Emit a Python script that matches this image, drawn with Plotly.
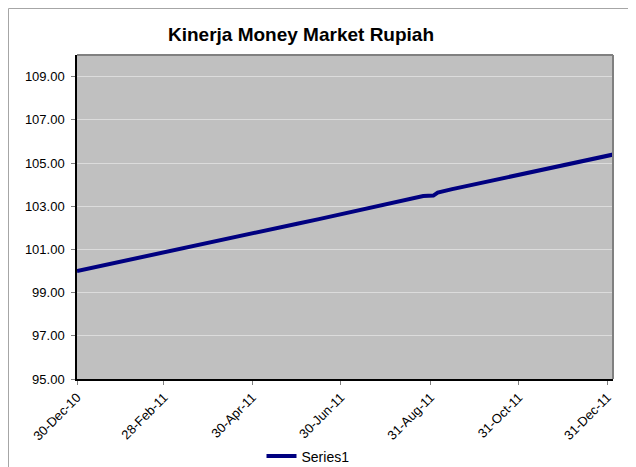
import plotly.graph_objects as go

dates = [
    "2010-12-30", "2011-01-14", "2011-01-31", "2011-02-15", "2011-02-28",
    "2011-03-15", "2011-03-31", "2011-04-15", "2011-04-29", "2011-05-16",
    "2011-05-31", "2011-06-15", "2011-06-30", "2011-07-15", "2011-07-29",
    "2011-08-15", "2011-08-26", "2011-09-02", "2011-09-05", "2011-09-15",
    "2011-09-30", "2011-10-14", "2011-10-31", "2011-11-15", "2011-11-30",
    "2011-12-15", "2011-12-30", "2012-01-04",
]
values = [
    100.00, 100.22, 100.46, 100.68, 100.87,
    101.08, 101.31, 101.53, 101.73, 101.97,
    102.19, 102.40, 102.62, 102.84, 103.04,
    103.29, 103.47, 103.49, 103.63, 103.79,
    104.01, 104.21, 104.45, 104.67, 104.88,
    105.10, 105.32, 105.39,
]
tick_dates = ["2010-12-30", "2011-02-28", "2011-04-30", "2011-06-30",
              "2011-08-31", "2011-10-31", "2011-12-31"]
tick_labels = ["30-Dec-10", "28-Feb-11", "30-Apr-11", "30-Jun-11",
               "31-Aug-11", "31-Oct-11", "31-Dec-11"]
y_ticks = [95, 97, 99, 101, 103, 105, 107, 109]

FONT = "Liberation Sans, Arial, sans-serif"

fig = go.Figure()
fig.add_trace(go.Scatter(
    x=dates, y=values, mode="lines", name="Series1",
    line=dict(color="#000080", width=4),
))

# page body has an 8px margin, so figure coordinates are offset by 8px
OFF = 8
W, H = 636 - OFF, 467 - OFF
L, R, T, B = 77 - OFF, 613 - OFF, 55 - OFF, 379 - OFF
pw, ph = R - L, B - T

def px(x):
    return (x - L) / pw

def py(y):
    return (B - y) / ph

fig.update_layout(
    width=W, height=H,
    margin=dict(l=L, r=W - R, t=T, b=H - B, pad=0, autoexpand=False),
    paper_bgcolor="white",
    plot_bgcolor="#C0C0C0",
    font=dict(family=FONT, size=13, color="black"),
    title=dict(text="<b>Kinerja Money Market Rupiah</b>", x=293 / W, xref="container",
               xanchor="center", y=1 - 26 / H, yref="container", yanchor="middle",
               font=dict(family=FONT, size=19, color="black")),
    showlegend=True,
    legend=dict(orientation="h", xref="container", yref="container",
                x=300 / W, xanchor="center", y=1 - 448.5 / H, yanchor="middle",
                font=dict(family=FONT, size=14), bgcolor="rgba(0,0,0,0)"),
    xaxis=dict(
        type="date", range=["2010-12-30", "2012-01-04"], automargin=False,
        tickvals=tick_dates, ticktext=tick_labels, tickangle=-45,
        showgrid=False, zeroline=False,
        showline=True, linecolor="black", linewidth=1.5,
        ticks="outside", ticklen=4, tickcolor="#808080",
        tickfont=dict(family=FONT, size=13),
    ),
    yaxis=dict(
        range=[95, 110], tickvals=y_ticks, tickformat=".2f", automargin=False,
        showgrid=True, gridcolor="#DCDCDC", gridwidth=1, zeroline=False,
        showline=True, linecolor="black", linewidth=1.5,
        ticks="outside", ticklen=4, tickcolor="#808080",
        ticklabelstandoff=4,
        tickfont=dict(family=FONT, size=13),
    ),
    shapes=[
        dict(type="line", xref="paper", yref="paper", x0=0, x1=1, y0=1, y1=1,
             line=dict(color="#808080", width=2)),
        dict(type="line", xref="paper", yref="paper", x0=1, x1=1, y0=0, y1=1,
             line=dict(color="#808080", width=2)),
        dict(type="rect", xref="paper", yref="paper",
             x0=px(0.5), x1=px(700), y0=py(0.5), y1=py(520),
             line=dict(color="#A6A6A6", width=1), fillcolor="rgba(0,0,0,0)"),
    ],
)

fig.write_html("out.html")
